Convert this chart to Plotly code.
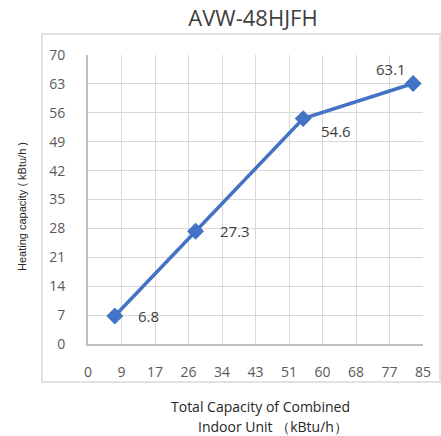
import plotly.graph_objects as go

combined_capacity = [6.8, 27.3, 54.6, 82.5]
heating_capacity = [6.8, 27.3, 54.6, 63.1]
label_text = ["6.8", "27.3", "54.6", "63.1"]
x_tickvals = [0, 8.5, 17, 25.5, 34, 42.5, 51, 59.5, 68, 76.5, 85]
x_ticktext = ["0", "9", "17", "26", "34", "43", "51", "60", "68", "77", "85"]
y_tickvals = [0, 7, 14, 21, 28, 35, 42, 49, 56, 63, 70]

# label offsets (pixels) relative to each point
label_dx = [21, 22, 16, -5]
label_dy = [0, 0, -12, 14]
label_anchor = ["left", "left", "left", "right"]

font_family = "Open Sans, Liberation Sans, sans-serif"

fig = go.Figure()
fig.add_trace(go.Scatter(
    x=combined_capacity, y=heating_capacity,
    mode="lines+markers",
    line=dict(color="#4472C4", width=3.5),
    marker=dict(symbol="diamond", size=13, color="#4472C4"),
    cliponaxis=False,
    hoverinfo="skip",
))

annotations = []
for xv, yv, t, dx, dy, anc in zip(combined_capacity, heating_capacity, label_text,
                                  label_dx, label_dy, label_anchor):
    annotations.append(dict(x=xv, y=yv, xref="x", yref="y", text=t, showarrow=False,
                            xanchor=anc, yanchor="middle", xshift=dx, yshift=dy,
                            font=dict(size=15, color="#404040", family=font_family)))

annotations += [
    dict(text="Total Capacity of Combined", xref="paper", yref="paper",
         x=(260 - 88) / 335, y=(344 - 406) / 289, xanchor="center", yanchor="middle",
         showarrow=False, font=dict(size=14, color="#262626", family=font_family)),
    dict(text="Indoor Unit （kBtu/h）", xref="paper", yref="paper",
         x=(273 - 88) / 335, y=(344 - 426) / 289, xanchor="center", yanchor="middle",
         showarrow=False, font=dict(size=14, color="#262626", family=font_family)),
    dict(text="Heating capacity ( kBtu/h )", xref="paper", yref="paper",
         x=(22 - 88) / 335, y=(344 - 207) / 289, xanchor="center", yanchor="middle",
         showarrow=False, textangle=-90,
         font=dict(size=11, color="#262626",
                   family="Liberation Sans Narrow, Liberation Sans, sans-serif")),
]

fig.update_layout(
    width=441, height=436,
    margin=dict(l=88, r=18, t=55, b=92, autoexpand=False),
    paper_bgcolor="white", plot_bgcolor="white",
    showlegend=False,
    title=dict(text="AVW-48HJFH", x=253 / 441, xanchor="center", y=1 - 18 / 436, yanchor="middle",
               font=dict(size=22, color="#404040", family=font_family)),
    xaxis=dict(range=[0, 85], tickvals=x_tickvals, ticktext=x_ticktext,
               showgrid=True, gridcolor="#d9d9d9", gridwidth=1,
               showline=True, linecolor="#bfbfbf", linewidth=2,
               zeroline=False, ticks="", ticklabelstandoff=14,
               tickfont=dict(size=14, color="#595959", family=font_family)),
    yaxis=dict(range=[0, 70], tickvals=y_tickvals,
               showgrid=True, gridcolor="#d9d9d9", gridwidth=1,
               showline=True, linecolor="#bfbfbf", linewidth=2,
               zeroline=False, ticks="", ticklabelstandoff=18,
               tickfont=dict(size=14, color="#595959", family=font_family)),
    shapes=[dict(type="rect", xref="paper", yref="paper",
                 x0=(42 - 88) / 335, x1=(440 - 88) / 335,
                 y0=(344 - 382) / 289, y1=(344 - 34) / 289,
                 line=dict(color="#d9d9d9", width=1.5), layer="below")],
    annotations=annotations,
)

fig.write_html("out.html", config={"displayModeBar": False},
               post_script="document.body.style.margin='0';document.body.style.overflow='hidden';")
